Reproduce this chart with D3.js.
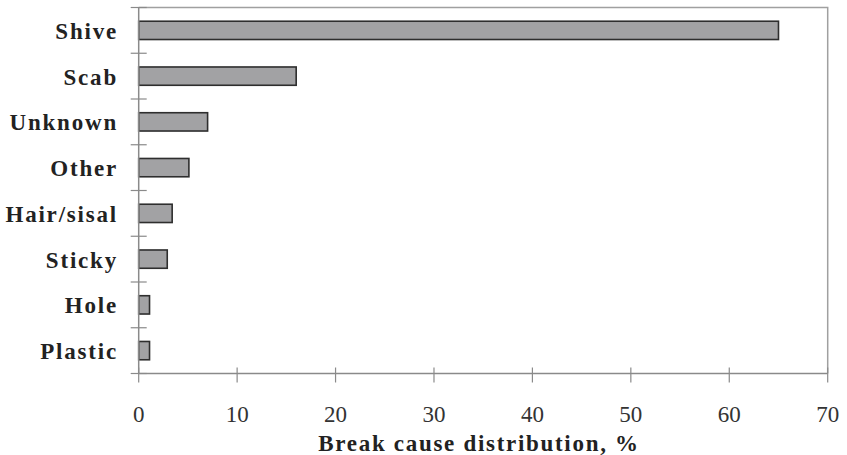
<!DOCTYPE html>
<html>
<head>
<meta charset="utf-8">
<script src="https://cdn.jsdelivr.net/npm/d3@7"></script>
<style>
  html, body { margin: 0; padding: 0; background: #fff; }
  svg { display: block; }
</style>
</head>
<body>
<svg id="chart" width="847" height="455"></svg>
<script>
const categories = ["Shive", "Scab", "Unknown", "Other", "Hair/sisal", "Sticky", "Hole", "Plastic"];
const values = [65, 16, 7, 5.1, 3.4, 2.9, 1.1, 1.1];
const xTicks = [0, 10, 20, 30, 40, 50, 60, 70];
const xTitle = "Break cause distribution, %";

const W = 847, H = 455;
const L = 138.7, R = 827.7, T = 7.5, B = 373.5;
const FONT = '"Liberation Serif"';
const svg = d3.select("#chart");

const x = d3.scaleLinear().domain([0, 70]).range([L, R]);
const y = d3.scaleBand().domain(categories).range([T, B]).paddingInner(0.6).paddingOuter(0.3);

const axisColor = "#8a8a8a";

// frame (top/right)
svg.append("path")
  .attr("d", `M${L},${T}H${R}V${B}`)
  .attr("fill", "none").attr("stroke", "#a0a0a0").attr("stroke-width", 1.5);

// bars
svg.append("g").selectAll("rect")
  .data(categories.map((c, i) => ({c, v: values[i]})))
  .join("rect")
  .attr("x", x(0))
  .attr("y", d => y(d.c))
  .attr("width", d => x(d.v) - x(0))
  .attr("height", y.bandwidth())
  .attr("fill", "#a2a2a4")
  .attr("stroke", "#2e2e2e")
  .attr("stroke-width", 1.6);

// y axis line and boundary ticks
const yAxisG = svg.append("g");
yAxisG.append("line").attr("x1", L).attr("x2", L).attr("y1", T).attr("y2", B)
  .attr("stroke", axisColor).attr("stroke-width", 1.5);
const step = y.step();
const bounds = d3.range(categories.length + 1).map(i => T + i * step);
yAxisG.selectAll("line.tk").data(bounds).join("line").attr("class", "tk")
  .attr("x1", L - 8).attr("x2", L + 8)
  .attr("y1", d => d).attr("y2", d => d)
  .attr("stroke", axisColor).attr("stroke-width", 1.2);

// y labels
svg.append("g").selectAll("text")
  .data(categories)
  .join("text")
  .attr("x", 118)
  .attr("y", d => y(d) + y.bandwidth() / 2 + 8.5)
  .attr("text-anchor", "end")
  .style("font-family", FONT)
  .style("font-weight", "bold")
  .style("font-size", "23px")
  .style("letter-spacing", "1.8px")
  .attr("fill", "#222")
  .text(d => d);

// x axis
const xAxisG = svg.append("g");
xAxisG.append("line").attr("x1", L).attr("x2", R).attr("y1", B).attr("y2", B)
  .attr("stroke", axisColor).attr("stroke-width", 1.5);
xAxisG.selectAll("line.tk").data(xTicks).join("line").attr("class", "tk")
  .attr("x1", d => x(d)).attr("x2", d => x(d))
  .attr("y1", B - 6).attr("y2", B + 9)
  .attr("stroke", axisColor).attr("stroke-width", 1.2);
xAxisG.selectAll("text").data(xTicks).join("text")
  .attr("x", d => x(d))
  .attr("y", 421.5)
  .attr("text-anchor", "middle")
  .style("font-family", FONT)
  .style("font-size", "23px")
  .attr("fill", "#333")
  .text(d => d);

// x title
svg.append("text")
  .attr("x", 479)
  .attr("y", 451)
  .attr("text-anchor", "middle")
  .style("font-family", FONT)
  .style("font-weight", "bold")
  .style("font-size", "23px")
  .style("letter-spacing", "1.7px")
  .attr("fill", "#222")
  .text(xTitle);
</script>
</body>
</html>
